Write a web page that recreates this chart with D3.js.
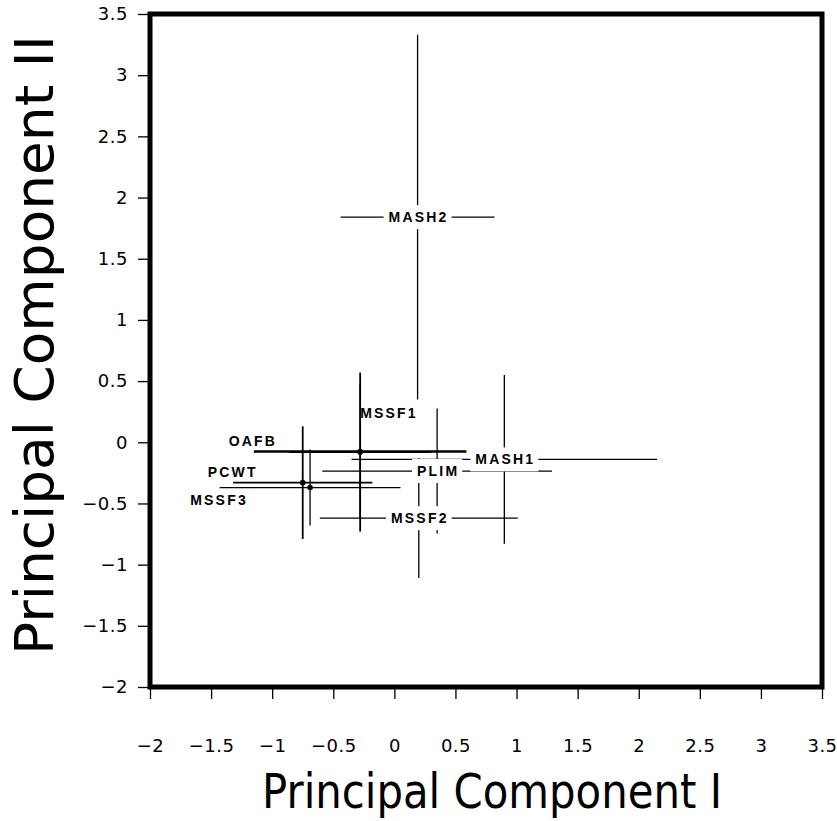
<!DOCTYPE html>
<html>
<head>
<meta charset="utf-8">
<script src="https://cdn.jsdelivr.net/npm/d3@7"></script>
<style>
  body { margin: 0; background: #fff; }
  svg { display: block; }
</style>
</head>
<body>
<svg id="chart" width="837" height="821"></svg>
<script>
// groups, centres and half-widths of the error bars
var names = ["MASH2", "MSSF1", "OAFB", "MASH1", "PLIM", "MSSF2", "PCWT", "MSSF3"];
var pc1   = [0.19, -0.28, -0.28, 0.90, 0.35, 0.20, -0.75, -0.69];
var pc2   = [1.84, -0.08, -0.075, -0.14, -0.235, -0.62, -0.33, -0.37];
var err1  = [0.63, 0.58, 0.87, 1.25, 0.94, 0.81, 0.57, 0.74];
var err2  = [1.49, 0.65, 0.55, 0.69, 0.51, 0.49, 0.46, 0.31];

var xTicks = [-2, -1.5, -1, -0.5, 0, 0.5, 1, 1.5, 2, 2.5, 3, 3.5];
var yTicks = [-2, -1.5, -1, -0.5, 0, 0.5, 1, 1.5, 2, 2.5, 3, 3.5];

// label placement (pixels from the centre); inline labels sit on the bar
var labelPos = {
    MASH2: {inline: true},
    MASH1: {inline: true},
    PLIM:  {inline: true},
    MSSF2: {inline: true},
    MSSF1: {dx: 0,   dy: -39, anchor: "start"},
    OAFB:  {dx: -83, dy: -10, anchor: "end"},
    PCWT:  {dx: -70, dy: -11, anchor: "middle"},
    MSSF3: {dx: -91, dy: 12,  anchor: "middle"}
};
var heavy = {OAFB: 2.6, MSSF1: 1.8, PCWT: 1.8};

var data = names.map(function (n, i) {
    return {name: n, x: pc1[i], y: pc2[i], ex: err1[i], ey: err2[i]};
});

var svg = d3.select("#chart");

var x = d3.scaleLinear().domain([-2, 3.5]).range([150, 822]);
var y = d3.scaleLinear().domain([-2, 3.5]).range([687, 14]);

var fmt = function (d) { return String(d).replace("-", "\u2212"); };

var gx = svg.append("g")
    .attr("transform", "translate(0," + y(-2) + ")")
    .call(d3.axisBottom(x).tickValues(xTicks).tickSize(12).tickPadding(40).tickFormat(fmt));
var gy = svg.append("g")
    .attr("transform", "translate(" + x(-2) + ",0)")
    .call(d3.axisLeft(y).tickValues(yTicks).tickSize(12).tickPadding(10).tickFormat(fmt));

[gx, gy].forEach(function (g) {
    g.select(".domain").remove();
    g.selectAll(".tick line").attr("stroke", "#000").attr("stroke-width", 1.3);
    g.selectAll(".tick text")
        .attr("fill", "#000")
        .attr("font-family", "'DejaVu Sans', sans-serif")
        .attr("font-size", 18)
        .attr("letter-spacing", 0.5);
});

// error bars
var bars = svg.append("g").attr("stroke", "#000").attr("fill", "none");
data.forEach(function (d) {
    var w = heavy[d.name] || 1.3;
    bars.append("line")
        .attr("x1", x(d.x - d.ex)).attr("x2", x(d.x + d.ex))
        .attr("y1", y(d.y)).attr("y2", y(d.y))
        .attr("stroke-width", w);
    bars.append("line")
        .attr("x1", x(d.x)).attr("x2", x(d.x))
        .attr("y1", y(d.y - d.ey)).attr("y2", y(d.y + d.ey))
        .attr("stroke-width", d.name == "OAFB" ? 1.3 : w);
});

svg.append("g")
    .selectAll("circle")
    .data(data)
    .enter()
    .append("circle")
    .attr("cx", function (d) { return x(d.x); })
    .attr("cy", function (d) { return y(d.y); })
    .attr("r", 2.8)
    .attr("fill", "#000");

// labels
var labels = svg.append("g")
    .attr("font-family", "'Liberation Sans', Arial, sans-serif")
    .attr("font-weight", "bold")
    .attr("font-size", 14)
    .attr("letter-spacing", 2.2);

data.forEach(function (d) {
    var p = labelPos[d.name];
    var cx = x(d.x), cy = y(d.y);
    var g = labels.append("g");
    if (p.inline) {
        var bg = g.append("rect").attr("fill", "#fff");
        var t = g.append("text")
            .attr("x", cx + 1)
            .attr("y", cy)
            .attr("dy", "0.36em")
            .attr("text-anchor", "middle")
            .text(d.name);
        var b = t.node().getBBox();
        bg.attr("x", b.x - 5).attr("width", b.width + 8)
          .attr("y", cy - 12).attr("height", 24);
    } else {
        g.append("text")
            .attr("x", cx + p.dx)
            .attr("y", cy + p.dy)
            .attr("dy", "0.36em")
            .attr("text-anchor", p.anchor)
            .text(d.name);
    }
});

// frame
svg.append("rect")
    .attr("x", x(-2)).attr("y", y(3.5))
    .attr("width", x(3.5) - x(-2)).attr("height", y(-2) - y(3.5))
    .attr("fill", "none")
    .attr("stroke", "#000")
    .attr("stroke-width", 5);

// axis titles
svg.append("text")
    .attr("x", 492)
    .attr("y", 808)
    .attr("text-anchor", "middle")
    .attr("font-family", "'DejaVu Sans', sans-serif")
    .attr("font-size", 48)
    .attr("textLength", 460)
    .attr("lengthAdjust", "spacingAndGlyphs")
    .text("Principal Component I");

svg.append("text")
    .attr("transform", "translate(53,345) rotate(-90)")
    .attr("text-anchor", "middle")
    .attr("font-family", "'DejaVu Sans', sans-serif")
    .attr("font-size", 54)
    .attr("textLength", 620)
    .attr("lengthAdjust", "spacingAndGlyphs")
    .text("Principal Component II");
</script>
</body>
</html>
